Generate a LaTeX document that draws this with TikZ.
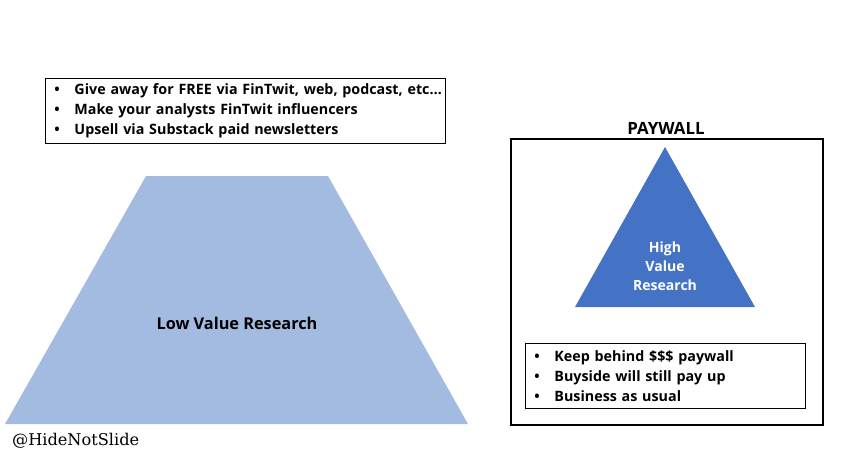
\documentclass[tikz,border=0pt]{standalone}
\usepackage{fontspec}
\setmainfont{Open Sans}
\newfontfamily\tagfont{DejaVu Serif}
\usepackage{tikz}
\usetikzlibrary{positioning}
\definecolor{lowblue}{HTML}{A3BBE0}
\definecolor{highblue}{HTML}{4472C4}
\newcommand{\blt}{\makebox[0.6cm][l]{\textbullet}}

\begin{document}
\begin{tikzpicture}[x=0.03cm,y=-0.03cm,
  listbox/.style={draw=black,line width=0.8pt,anchor=north west,align=left,
                  inner xsep=0.27cm,inner ysep=0pt,font=\fontsize{12.2}{17}\selectfont\bfseries},
  label/.style={font=\fontsize{13.9}{16}\selectfont\bfseries,align=center}
]
\useasboundingbox (0,0) rectangle (851,464);
% low value side
\fill[lowblue] (146,176) -- (328,176) -- (468,424) -- (5,424) -- cycle;
\node[label] (low) at (237,323) {Low Value Research};
\node[listbox,text width=11.46cm,minimum height=1.95cm] (free) at (45,78)
{\blt\mbox{Give away for FREE via FinTwit, web, podcast, etc…}\\
 \blt Make your analysts FinTwit influencers\\
 \blt Upsell via Substack paid newsletters};
% paywall side
\draw[line width=2.4pt] (511,139) rectangle (823,425);
\node[label,font=\fontsize{14.4}{16}\selectfont\bfseries,above=0pt of {(666,139)}] (pay) {PAYWALL};
\fill[highblue] (665,147) -- (755,307) -- (575,307) -- cycle;
\node[label,text=white,font=\fontsize{12}{16}\selectfont\bfseries] (high) at (665,266) {High\\Value\\Research};
\node[listbox,text width=7.86cm,minimum height=1.95cm] (keep) at (525,343)
{\blt Keep behind \$\$\$ paywall\\
 \blt Buyside will still pay up\\
 \blt Business as usual};
\node[font=\tagfont\fontsize{13.8}{14}\selectfont,anchor=west] (tag) at (8,441) {@HideNotSlide};
\end{tikzpicture}
\end{document}
